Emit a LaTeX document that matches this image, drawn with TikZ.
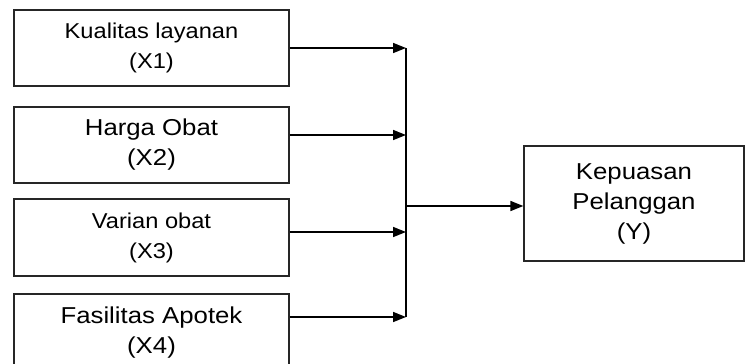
\documentclass[tikz,border=0pt]{standalone}
\usepackage{fontspec}
\setmainfont{Liberation Sans}
\newfontfamily\fa{Liberation Sans}[FakeStretch=1.1]
\newfontfamily\fb{Liberation Sans}[FakeStretch=1.12]
\usetikzlibrary{arrows.meta}
\begin{document}
\begin{tikzpicture}[x=1pt,y=-1pt,
  box/.style={draw=black!85, line width=1.3pt, inner sep=0pt, align=center,
    text=black, font=\fb\fontsize{23}{30}\selectfont},
  smallbox/.style={box, font=\fa\fontsize{21.5}{30}\selectfont},
  arr/.style={draw=black, line width=1.6pt, -{Triangle[length=13pt,width=10pt]}},
  bus/.style={draw=black, line width=1.6pt}]
\useasboundingbox (0,0) rectangle (745,364);
\fill[white] (0,0) rectangle (745,364);
\node[smallbox, minimum width=275pt, minimum height=76pt] (b1) at (151.5,48) {Kualitas layanan\\(X1)};
\node[box, minimum width=275pt, minimum height=76pt] (b2) at (151.5,145) {Harga Obat\\(X2)};
\node[smallbox, minimum width=275pt, minimum height=77pt] (b3) at (151.5,237.5) {Varian obat\\(X3)};
\node[box, minimum width=275pt, minimum height=78pt] (b4) at (151.5,333) {Fasilitas Apotek\\(X4)};
\node[box, minimum width=220pt, minimum height=115pt] (y) at (634,203.5) {Kepuasan\\Pelanggan\\(Y)};
\coordinate (j1) at (406,48);
\coordinate (j2) at (406,135);
\coordinate (j3) at (406,232);
\coordinate (j4) at (406,317);
\coordinate (jm) at (406,206);
\draw[bus] (j1) -- (j4);
\draw[arr] (b1.east) -- (j1);
\draw[arr] (b2.east |- j2) -- (j2);
\draw[arr] (b3.east |- j3) -- (j3);
\draw[arr] (b4.east |- j4) -- (j4);
\draw[arr] (jm) -- (y.west |- jm);
\end{tikzpicture}
\end{document}
